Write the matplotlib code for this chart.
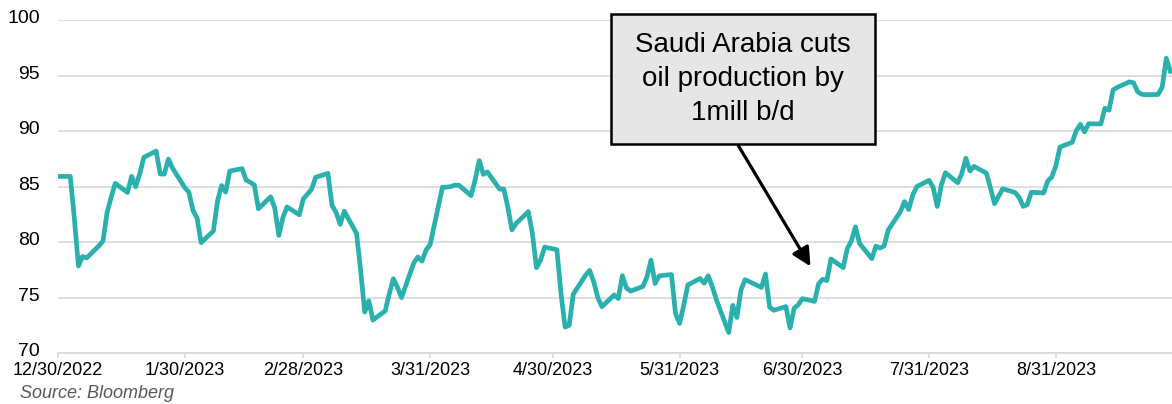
import matplotlib
matplotlib.use("Agg")
import matplotlib.pyplot as plt
from matplotlib import patches, transforms
import pandas as pd

plt.rcParams['font.family'] = ['Liberation Sans', 'DejaVu Sans']

# Brent close, one value per weekday (holidays carried over)
dec_2022 = [85.91]
jan = [85.91, 82.10, 77.84, 78.69, 78.57, 79.65, 80.10, 82.67, 84.03, 85.28,
       84.46, 85.92, 84.98, 86.16, 87.63, 88.19, 86.13, 86.12, 87.47, 86.66,
       84.90, 84.49]
feb = [82.84, 82.17, 79.94, 80.99, 83.69, 85.09, 84.50, 86.39, 86.61, 85.58,
       85.38, 85.14, 83.00, 84.07, 83.05, 80.60, 82.21, 83.16, 82.45, 83.89]
mar = [84.31, 84.75, 85.83, 86.18, 83.29, 82.66, 81.59, 82.78, 80.77, 77.45,
       73.69, 74.70, 72.97, 73.79, 75.32, 76.69, 75.91, 74.99, 78.12, 78.65,
       78.28, 79.27, 79.77]
apr = [84.93, 84.94, 84.99, 85.12, 85.12, 84.18, 85.61, 87.33, 86.09, 86.31,
       84.76, 84.77, 83.12, 81.10, 81.66, 82.73, 80.77, 77.69, 78.37, 79.54]
may = [79.31, 75.32, 72.33, 72.50, 75.30, 77.01, 77.44, 76.41, 74.98, 74.17,
       75.23, 74.91, 76.96, 75.86, 75.58, 75.99, 76.84, 78.36, 76.26, 76.95,
       77.07, 73.54, 72.66]
jun = [74.28, 76.13, 76.71, 76.29, 76.95, 75.96, 74.79, 71.84, 74.29, 73.20,
       75.67, 76.61, 76.09, 75.90, 77.12, 74.14, 73.85, 74.18, 72.26, 74.03,
       74.34, 74.90]
jul = [74.65, 76.25, 76.65, 76.52, 78.47, 77.69, 79.40, 80.11, 81.36, 79.87,
       78.50, 79.63, 79.46, 79.64, 81.07, 82.74, 83.64, 82.92, 84.24, 84.99,
       85.56]
aug = [84.91, 83.20, 85.14, 86.24, 85.34, 86.17, 87.55, 86.40, 86.81, 86.21,
       84.89, 83.45, 84.12, 84.80, 84.46, 84.03, 83.21, 83.36, 84.48, 84.42,
       85.49, 85.86, 86.86]
sep = [88.55, 88.98, 90.04, 90.60, 89.92, 90.65, 90.64, 92.06, 91.88, 93.70,
       93.93, 94.43, 94.34, 93.53, 93.30, 93.27, 93.29, 93.96, 96.55, 95.38]

prices = dec_2022 + jan + feb + mar + apr + may + jun + jul + aug + sep
dates = pd.bdate_range("2022-12-30", "2023-09-28")
assert len(dates) == len(prices)

tick_dates = pd.to_datetime(["2022-12-30", "2023-01-30", "2023-02-28", "2023-03-31",
                             "2023-04-30", "2023-05-31", "2023-06-30", "2023-07-31",
                             "2023-08-31"])
tick_labels = ["12/30/2022", "1/30/2023", "2/28/2023", "3/31/2023", "4/30/2023",
               "5/31/2023", "6/30/2023", "7/31/2023", "8/31/2023"]
y_ticks = [70, 75, 80, 85, 90, 95, 100]

W, H = 1172, 404
fig = plt.figure(figsize=(W / 100, H / 100), dpi=100)
ax = fig.add_axes([58 / W, 51 / H, 1 - 58 / W, 333 / H])

grid_col = '#D9D9D9'
ax.plot(dates, prices, color='#2AB1AD', lw=3.4, solid_joinstyle='round', zorder=3)

ax.set_xlim(dates[0], dates[0] + pd.Timedelta(days=272.4))
ax.set_ylim(70, 100)
ax.set_yticks(y_ticks)
ax.set_xticks(tick_dates)
ax.set_xticklabels(tick_labels)
ax.yaxis.grid(True, color=grid_col, lw=1.2)
ax.set_axisbelow(True)
for s in ['top', 'right', 'left']:
    ax.spines[s].set_visible(False)
ax.spines['bottom'].set_color(grid_col)
ax.spines['bottom'].set_linewidth(1.2)
ax.tick_params(axis='y', length=0, pad=13, labelsize=14)
ax.tick_params(axis='x', length=3.6, width=1.1, color=grid_col, pad=3, labelsize=13)

# nudge y labels up a little, like the original
shift = transforms.ScaledTranslation(0, 2.5 / 72, fig.dpi_scale_trans)
for lab in ax.get_yticklabels():
    lab.set_transform(lab.get_transform() + shift)

# callout box
fig.patches.append(patches.Rectangle((611 / W, 1 - 144 / H), 264 / W, 130 / H,
                                     transform=fig.transFigure, facecolor='#E6E6E6',
                                     edgecolor='black', lw=1.8, zorder=5))
fig.text(743 / W, 1 - 79 / H, "Saudi Arabia cuts\noil production by\n1mill b/d",
         ha='center', va='center', fontsize=20, linespacing=1.42, zorder=6)
ax.annotate("", xy=(pd.Timestamp("2023-07-02"), 77.8), xycoords='data',
            xytext=(738 / W, 1 - 145 / H), textcoords='figure fraction',
            arrowprops=dict(arrowstyle='-|>', color='black', lw=2.3, mutation_scale=28,
                            shrinkA=0, shrinkB=0), annotation_clip=False)

fig.text(20 / W, 1 - 393 / H, "Source: Bloomberg", fontsize=13, style='italic',
         color='#595959', va='center')

fig.savefig("out.png", dpi=100)
